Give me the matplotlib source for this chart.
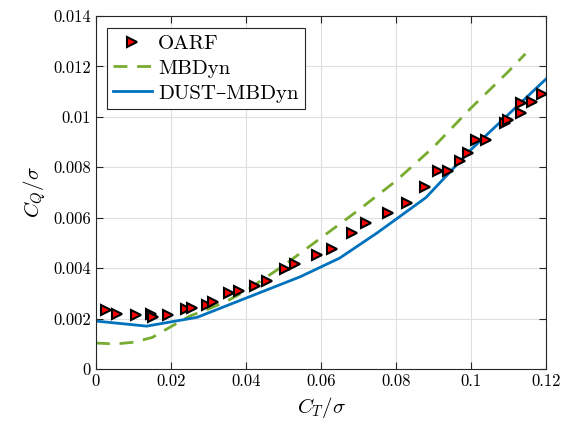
import matplotlib
matplotlib.use("Agg")
import matplotlib.pyplot as plt
from matplotlib.ticker import FuncFormatter

plt.rcParams["font.family"] = ["cmr10", "DejaVu Serif"]
plt.rcParams["mathtext.fontset"] = "cm"
plt.rcParams["axes.formatter.use_mathtext"] = True

# OARF experimental points
oarf_ct = [0.00267, 0.00568, 0.01067, 0.01467, 0.01528, 0.01928, 0.0240, 0.0256,
           0.02952, 0.03128, 0.03555, 0.03821, 0.0424, 0.04568, 0.05053, 0.05307,
           0.05885, 0.06285, 0.06819, 0.0720, 0.07795, 0.08285, 0.08773, 0.09128,
           0.09395, 0.09707, 0.09928, 0.10133, 0.1040, 0.10907, 0.10995, 0.11333,
           0.11325, 0.11619, 0.11885]
oarf_cq = [0.00234, 0.00218, 0.00213, 0.00218, 0.00205, 0.00214, 0.00237, 0.00242,
           0.00254, 0.00267, 0.00300, 0.00311, 0.00329, 0.00350, 0.00395, 0.00418,
           0.00452, 0.00475, 0.00538, 0.00578, 0.00617, 0.00660, 0.00723, 0.00786,
           0.00786, 0.00826, 0.00856, 0.00909, 0.00909, 0.00977, 0.00988, 0.01016,
           0.01054, 0.01058, 0.01090]

# MBDyn
mbdyn_ct = [0.0, 0.005, 0.01, 0.015, 0.02, 0.025, 0.03, 0.035, 0.04, 0.045, 0.05,
            0.06, 0.07, 0.08, 0.09, 0.1, 0.11, 0.1145]
mbdyn_cq = [0.00103, 0.00099, 0.00106, 0.00125, 0.00168, 0.0021, 0.00238, 0.0027,
            0.0031, 0.0036, 0.0041, 0.0052, 0.0063, 0.00746, 0.0088, 0.01035,
            0.0118, 0.0125]

# DUST-MBDyn
dust_ct = [0.0, 0.0135, 0.027, 0.0545, 0.065, 0.075, 0.088, 0.1, 0.11, 0.12]
dust_cq = [0.0019, 0.0017, 0.00205, 0.00366, 0.0044, 0.0054, 0.0068, 0.0087,
           0.0101, 0.0115]

fig = plt.figure(figsize=(5.74, 4.29), dpi=100)
ax = fig.add_axes([0.1672, 0.1399, 0.784, 0.8228])

ax.plot(oarf_ct, oarf_cq, ">", markersize=7.5, markerfacecolor="red",
        markeredgecolor="black", markeredgewidth=1.5, label="OARF", zorder=3)
ax.plot(mbdyn_ct, mbdyn_cq, "--", color="#77AC30", linewidth=2, dashes=(5, 3.5),
        label="MBDyn")
ax.plot(dust_ct, dust_cq, "-", color="#0072BD", linewidth=2, label="DUST\u2013MBDyn")

ax.set_xlim(0, 0.12)
ax.set_ylim(0, 0.014)
ax.set_xticks([0, 0.02, 0.04, 0.06, 0.08, 0.1, 0.12])
ax.set_yticks([0, 0.002, 0.004, 0.006, 0.008, 0.01, 0.012, 0.014])
fmt = FuncFormatter(lambda v, p: "%g" % round(v, 6))
ax.xaxis.set_major_formatter(fmt)
ax.yaxis.set_major_formatter(fmt)
ax.tick_params(direction="in", top=True, right=True, labelsize=12, length=5,
               width=0.8, colors="#262626", labelcolor="black")
ax.grid(True, color="#dfdfdf", linewidth=0.8)
ax.set_axisbelow(True)
for s in ax.spines.values():
    s.set_color("#262626")
    s.set_linewidth(0.8)

ax.set_xlabel(r"$C_T/\sigma$", fontsize=15, labelpad=4)
ax.set_ylabel(r"$C_Q/\sigma$", fontsize=15, labelpad=4)

leg = ax.legend(loc="upper left", fontsize=15, frameon=True, fancybox=False,
                edgecolor="#262626", framealpha=1, borderpad=0.3,
                labelspacing=0.3, handlelength=1.85, handletextpad=0.3,
                borderaxespad=0, bbox_to_anchor=(0.024, 0.966))
leg.get_frame().set_linewidth(0.8)

fig.savefig("out.png", dpi=100)
